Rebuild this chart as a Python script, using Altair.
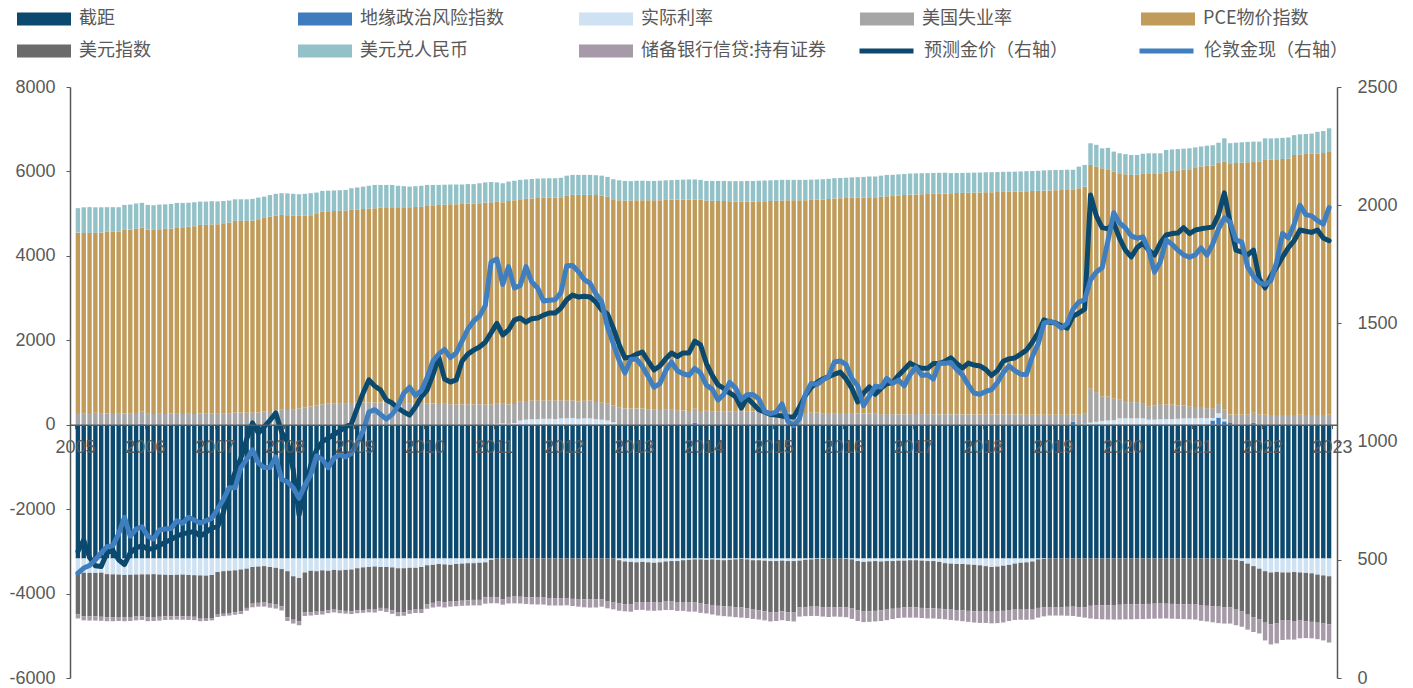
import altair as alt
import pandas as pd

YEARS = ["2005", "2006", "2007", "2008", "2009", "2010", "2011", "2012", "2013", "2014",
         "2015", "2016", "2017", "2018", "2019", "2020", "2021", "2022", "2023"]

SERIES = ["截距", "地缘政治风险指数", "实际利率", "美国失业率", "PCE物价指数",
          "美元指数", "美元兑人民币", "储备银行信贷:持有证券"]
COLORS = ["#0b4a6e", "#3f7cbf", "#cfe2f3", "#a6a6a6", "#c09b5a",
          "#6b6b6b", "#93c1c8", "#a699a8"]
LINE_SERIES = ["预测金价（右轴）", "伦敦金现（右轴）"]
LINE_COLORS = ["#0b4a6e", "#3f7fc0"]

# monthly contributions (one row = 12 months)
INTERCEPT = [
    -3170, -3170, -3170, -3170, -3170, -3170, -3170, -3170, -3170, -3170, -3170, -3170,
    -3170, -3170, -3170, -3170, -3170, -3170, -3170, -3170, -3170, -3170, -3170, -3170,
    -3170, -3170, -3170, -3170, -3170, -3170, -3170, -3170, -3170, -3170, -3170, -3170,
    -3170, -3170, -3170, -3170, -3170, -3170, -3170, -3170, -3170, -3170, -3170, -3170,
    -3170, -3170, -3170, -3170, -3170, -3170, -3170, -3170, -3170, -3170, -3170, -3170,
    -3170, -3170, -3170, -3170, -3170, -3170, -3170, -3170, -3170, -3170, -3170, -3170,
    -3170, -3170, -3170, -3170, -3170, -3170, -3170, -3170, -3170, -3170, -3170, -3170,
    -3170, -3170, -3170, -3170, -3170, -3170, -3170, -3170, -3170, -3170, -3170, -3170,
    -3170, -3170, -3170, -3170, -3170, -3170, -3170, -3170, -3170, -3170, -3170, -3170,
    -3170, -3170, -3170, -3170, -3170, -3170, -3170, -3170, -3170, -3170, -3170, -3170,
    -3170, -3170, -3170, -3170, -3170, -3170, -3170, -3170, -3170, -3170, -3170, -3170,
    -3170, -3170, -3170, -3170, -3170, -3170, -3170, -3170, -3170, -3170, -3170, -3170,
    -3170, -3170, -3170, -3170, -3170, -3170, -3170, -3170, -3170, -3170, -3170, -3170,
    -3170, -3170, -3170, -3170, -3170, -3170, -3170, -3170, -3170, -3170, -3170, -3170,
    -3170, -3170, -3170, -3170, -3170, -3170, -3170, -3170, -3170, -3170, -3170, -3170,
    -3170, -3170, -3170, -3170, -3170, -3170, -3170, -3170, -3170, -3170, -3170, -3170,
    -3170, -3170, -3170, -3170, -3170, -3170, -3170, -3170, -3170, -3170, -3170, -3170,
    -3170, -3170, -3170, -3170, -3170, -3170, -3170, -3170, -3170, -3170, -3170, -3170,
]

GEO = [
    0, 0, 0, 0, 0, 0, 0, 0, 0, 0, 0, 20,
    0, 0, 0, 0, 0, 0, 0, 0, 0, 0, 0, 0,
    0, 0, 0, 0, 0, 0, 0, 0, 0, 0, 0, 0,
    0, 0, 0, 0, 0, 0, 0, 0, 0, 0, 0, 0,
    0, 0, 0, 0, 0, 0, 0, 0, 0, 0, 0, 0,
    0, 0, 0, 0, 0, 0, 0, 0, 0, 0, 0, 0,
    0, 0, 0, 0, 0, 0, 0, 0, 0, 0, 0, 0,
    0, 0, 0, 0, 0, 0, 0, 0, 0, 0, 0, 0,
    0, 0, 0, 0, 0, 0, 0, 0, 0, 0, 50, 0,
    0, 0, 0, 0, 0, 0, 0, 0, 0, 0, 0, 0,
    0, 0, 0, 0, 0, 0, 0, 0, 0, 0, 0, 0,
    0, 0, 0, 0, 0, 0, 0, 0, 0, 0, 0, 0,
    0, 0, 0, 0, 0, 0, 0, 0, 0, 0, 0, 0,
    0, 0, 0, 0, 0, 0, 0, 0, 0, 0, 0, 0,
    0, 0, 0, 70, 0, 0, 0, 0, 0, 0, 0, 0,
    0, 0, 0, 0, 0, 0, 0, 0, 0, 0, 0, 0,
    0, 0, 0, 100, 170, 80, 40, 0, 0, 0, 50, 0,
    0, 0, 0, 0, 0, 0, 0, 0, 0, 0, 0, 0,
]

REAL = [
    -330, -335, -340, -340, -335, -370, -375, -380, -390, -385, -380, -375,
    -375, -370, -380, -385, -390, -385, -380, -390, -395, -400, -405, -390,
    -320, -300, -290, -280, -260, -240, -200, -190, -180, -200, -220, -250,
    -300, -420, -460, -330, -290, -300, -280, -290, -270, -280, -270, -260,
    -230, -210, -200, -190, -200, -200, -210, -230, -230, -220, -220, -200,
    -160, -150, -130, -140, -150, -130, -120, -110, -110, -100, -90, -30,
    20, 30, 20, 40, 100, 120, 130, 130, 140, 140, 130, 150,
    150, 160, 140, 150, 150, 130, 120, 100, 60, -40, -70, -80,
    -90, -80, -90, -100, -90, -70, -60, -60, -40, -30, -20, -20,
    -30, -20, -30, -40, -30, -20, -10, -20, -40, -40, -50, -60,
    -60, -50, -60, -60, -50, -30, -20, -10, -10, 0, 0, 0,
    -10, -20, -60, -80, -70, -60, -70, -60, -60, -50, -50, -40,
    -40, -50, -60, -60, -80, -110, -120, -130, -130, -140, -150, -160,
    -180, -200, -190, -170, -150, -120, -100, -90, -70, -20, -10, 0,
    5, 5, 5, 0, 10, 20, 50, 70, 90, 100, 110, 150,
    150, 150, 150, 150, 120, 120, 130, 130, 130, 140, 150, 150,
    150, 160, 150, 60, 100, 50, -20, -30, -60, -120, -180, -240,
    -300, -330, -320, -330, -330, -320, -330, -340, -350, -380, -400, -420,
]

UNEMP = [
    280, 275, 280, 285, 275, 270, 280, 275, 270, 275, 280, 295,
    262, 255, 262, 255, 267, 262, 255, 262, 255, 267, 273, 267,
    273, 273, 273, 290, 290, 284, 296, 290, 313, 325, 336, 354,
    350, 370, 390, 410, 430, 460, 480, 495, 505, 510, 510, 515,
    525, 530, 528, 528, 525, 525, 528, 528, 515, 505, 505, 510,
    505, 500, 515, 495, 485, 480, 480, 485, 480, 485, 480, 480,
    478, 468, 458, 452, 442, 442, 436, 436, 436, 436, 436, 430,
    415, 415, 410, 420, 425, 410, 400, 405, 400, 400, 388, 383,
    383, 383, 367, 356, 351, 356, 356, 330, 335, 325, 330, 325,
    330, 320, 322, 315, 318, 310, 305, 305, 312, 300, 295, 290,
    285, 285, 290, 285, 275, 280, 285, 290, 275, 280, 275, 280,
    280, 276, 265, 265, 265, 260, 250, 250, 250, 245, 245, 250,
    255, 250, 250, 248, 245, 248, 245, 245, 240, 245, 240, 240,
    238, 240, 240, 243, 248, 240, 240, 238, 235, 235, 238, 235,
    232, 232, 232, 170, 227, 240, 802, 703, 580, 570, 505, 442,
    386, 386, 386, 363, 314, 340, 359, 350, 340, 320, 305, 284,
    270, 260, 244, 220, 219, 225, 200, 235, 235, 235, 235, 235,
    235, 232, 232, 230, 230, 232, 235, 232, 230, 230, 232, 235,
]

PCE = [
    4270, 4265, 4265, 4260, 4275, 4305, 4295, 4295, 4346, 4345, 4360, 4350,
    4358, 4361, 4368, 4385, 4383, 4417, 4424, 4428, 4445, 4467, 4461, 4473,
    4477, 4497, 4517, 4539, 4539, 4545, 4544, 4580, 4587, 4605, 4614, 4616,
    4610, 4580, 4557, 4537, 4530, 4551, 4570, 4560, 4555, 4555, 4563, 4574,
    4575, 4580, 4592, 4602, 4615, 4625, 4625, 4625, 4635, 4645, 4650, 4650,
    4675, 4700, 4692, 4720, 4735, 4745, 4750, 4750, 4760, 4762, 4780, 4790,
    4782, 4772, 4822, 4828, 4800, 4788, 4794, 4804, 4799, 4804, 4819, 4810,
    4855, 4869, 4894, 4874, 4869, 4900, 4910, 4895, 4880, 4920, 4922, 4927,
    4937, 4937, 4948, 4959, 4969, 4969, 4974, 5000, 5000, 5010, 4955, 5005,
    4980, 4985, 4978, 4985, 4977, 4980, 4985, 4985, 4978, 4995, 5000, 5010,
    5020, 5025, 5025, 5030, 5043, 5040, 5040, 5040, 5060, 5065, 5085, 5085,
    5090, 5099, 5115, 5120, 5125, 5130, 5150, 5160, 5170, 5185, 5195, 5200,
    5200, 5210, 5215, 5222, 5230, 5232, 5239, 5243, 5250, 5250, 5260, 5262,
    5267, 5268, 5270, 5272, 5270, 5280, 5285, 5292, 5300, 5305, 5307, 5315,
    5318, 5321, 5323, 5322, 5365, 5380, 5302, 5341, 5405, 5365, 5381, 5365,
    5399, 5382, 5382, 5427, 5523, 5497, 5468, 5516, 5540, 5565, 5585, 5620,
    5660, 5694, 5736, 5760, 5720, 5878, 5956, 5965, 5975, 5980, 5940, 5998,
    6037, 6045, 6055, 6065, 6077, 6156, 6165, 6180, 6195, 6195, 6205, 6227,
]

DXY = [
    -995, -1030, -1025, -1030, -1045, -1020, -1015, -1005, -1000, -1000, -995, -995,
    -1015, -1015, -1000, -985, -977, -982, -990, -985, -985, -1025, -1020, -1020,
    -1010, -1010, -1000, -990, -990, -930, -870, -860, -863, -870, -870, -880,
    -1090, -1030, -1030, -950, -980, -960, -976, -940, -940, -950, -970, -990,
    -1000, -1010, -1010, -1020, -970, -990, -1020, -1050, -1040, -1010, -990, -1010,
    -930, -900, -890, -900, -870, -880, -880, -880, -870, -880, -830, -880,
    -920, -972, -910, -901, -905, -915, -920, -925, -925, -948, -948, -948,
    -948, -955, -960, -965, -972, -970, -970, -1020, -1043, -1027, -1010, -1010,
    -953, -950, -953, -943, -940, -950, -960, -970, -990, -1013, -1023, -1047,
    -1050, -1080, -1090, -1090, -1110, -1130, -1150, -1165, -1170, -1190, -1200, -1220,
    -1210, -1200, -1210, -1220, -1110, -1120, -1120, -1130, -1140, -1160, -1150, -1155,
    -1150, -1165, -1170, -1176, -1180, -1180, -1160, -1150, -1130, -1120, -1110, -1120,
    -1120, -1120, -1120, -1120, -1110, -1090, -1090, -1090, -1100, -1100, -1100, -1096,
    -1076, -1060, -1066, -1070, -1070, -1090, -1110, -1120, -1140, -1150, -1150, -1150,
    -1150, -1150, -1145, -1140, -1150, -1160, -1120, -1114, -1110, -1105, -1100, -1095,
    -1090, -1090, -1085, -1080, -1075, -1070, -1067, -1070, -1075, -1080, -1085, -1090,
    -1090, -1114, -1120, -1130, -1140, -1150, -1140, -1180, -1196, -1210, -1210, -1205,
    -1220, -1230, -1210, -1140, -1140, -1160, -1140, -1150, -1150, -1140, -1140, -1140,
]

CNY = [
    580, 610, 610, 605, 600, 578, 578, 583, 591, 595, 600, 591,
    587, 584, 585, 580, 580, 575, 575, 570, 570, 552, 552, 555,
    540, 530, 520, 511, 511, 511, 510, 510, 504, 510, 520, 515,
    520, 520, 513, 523, 525, 488, 490, 490, 490, 490, 489, 513,
    520, 530, 540, 550, 540, 530, 527, 507, 500, 490, 495, 500,
    500, 480, 473, 470, 470, 465, 460, 465, 460, 473, 480, 480,
    460, 450, 460, 460, 458, 460, 460, 460, 460, 459, 455, 460,
    480, 474, 474, 474, 474, 470, 470, 470, 475, 470, 465, 460,
    460, 460, 460, 460, 460, 465, 465, 470, 470, 475, 475, 470,
    465, 470, 475, 475, 475, 480, 480, 485, 485, 485, 490, 490,
    490, 490, 485, 485, 482, 480, 480, 480, 480, 480, 480, 480,
    480, 485, 485, 485, 490, 490, 500, 505, 500, 500, 500, 500,
    500, 498, 495, 495, 493, 490, 476, 474, 475, 473, 472, 473,
    475, 474, 475, 475, 475, 475, 475, 475, 475, 475, 480, 480,
    480, 477, 480, 478, 512, 514, 513, 516, 472, 525, 474, 473,
    475, 472, 472, 480, 473, 473, 473, 513, 510, 505, 500, 495,
    490, 476, 480, 480, 471, 551, 474, 480, 480, 485, 481, 473,
    512, 504, 500, 500, 498, 472, 480, 475, 473, 513, 520, 560,
]

RESERVE = [
    -95, -100, -105, -100, -95, -95, -95, -95, -95, -95, -90, -85,
    -95, -95, -90, -85, -85, -80, -80, -80, -80, -60, -55, -55,
    -55, -55, -60, -60, -65, -65, -85, -90, -95, -95, -95, -100,
    -90, -90, -90, -80, -80, -75, -70, -65, -65, -65, -65, -65,
    -65, -65, -65, -70, -70, -75, -80, -85, -85, -80, -80, -80,
    -100, -110, -120, -120, -120, -120, -120, -125, -130, -130, -150, -150,
    -140, -120, -155, -160, -160, -160, -165, -165, -165, -165, -165, -165,
    -160, -170, -180, -190, -190, -190, -170, -160, -160, -170, -170, -170,
    -175, -185, -190, -195, -200, -200, -200, -210, -210, -215, -215, -220,
    -220, -225, -230, -235, -235, -240, -240, -225, -220, -215, -215, -210,
    -210, -210, -210, -210, -215, -215, -220, -220, -225, -225, -225, -225,
    -230, -245, -250, -250, -250, -250, -250, -250, -245, -240, -240, -240,
    -240, -240, -240, -240, -240, -240, -245, -250, -255, -260, -265, -270,
    -270, -275, -275, -275, -260, -245, -240, -240, -235, -230, -210, -200,
    -200, -200, -210, -220, -230, -240, -300, -320, -330, -340, -345, -350,
    -350, -350, -350, -355, -355, -355, -355, -350, -350, -350, -350, -350,
    -355, -360, -370, -380, -390, -390, -380, -370, -360, -355, -350, -330,
    -420, -475, -480, -460, -450, -440, -420, -395, -390, -390, -400, -430,
]

PRED = [
    536, 584, 510, 475, 472, 530, 540, 500, 480, 530, 550, 560,
    545, 548, 560, 575, 585, 600, 610, 615, 620, 600, 615, 635,
    640, 700, 800, 870, 930, 1010, 1079, 1036, 1062, 1090, 1121, 1040,
    1000, 880, 690, 795, 900, 965, 1000, 1015, 1030, 1045, 1062, 1075,
    1142, 1205, 1261, 1235, 1218, 1176, 1163, 1142, 1125, 1112, 1146, 1189,
    1218, 1282, 1358, 1265, 1252, 1261, 1340, 1370, 1387, 1400, 1420, 1460,
    1500, 1451, 1472, 1514, 1523, 1505, 1520, 1523, 1535, 1544, 1544, 1565,
    1600, 1620, 1612, 1615, 1612, 1590, 1557, 1540, 1480, 1410, 1354, 1357,
    1370, 1379, 1340, 1303, 1320, 1350, 1375, 1360, 1375, 1375, 1425, 1409,
    1330, 1280, 1240, 1225, 1206, 1190, 1142, 1185, 1160, 1135, 1125, 1115,
    1112, 1108, 1104, 1104, 1146, 1195, 1230, 1250, 1265, 1275, 1285, 1294,
    1265, 1225, 1168, 1205, 1231, 1200, 1225, 1245, 1250, 1280, 1305, 1332,
    1318, 1310, 1310, 1330, 1330, 1340, 1354, 1330, 1311, 1332, 1324, 1320,
    1305, 1280, 1300, 1340, 1350, 1354, 1370, 1387, 1420, 1460, 1515, 1505,
    1502, 1490, 1480, 1530, 1544, 1560, 2043, 1955, 1905, 1900, 1925, 1860,
    1810, 1781, 1820, 1840, 1810, 1789, 1840, 1874, 1880, 1882, 1905, 1880,
    1895, 1900, 1904, 1908, 1960, 2052, 1925, 1810, 1802, 1790, 1810, 1690,
    1650, 1700, 1739, 1781, 1820, 1850, 1895, 1890, 1885, 1895, 1861, 1850,
]

GOLD = [
    444, 465, 476, 500, 530, 555, 560, 610, 680, 600, 630, 640,
    600, 588, 626, 630, 632, 665, 655, 680, 668, 656, 665, 675,
    715, 755, 805, 805, 890, 925, 965, 910, 890, 890, 935, 840,
    830, 805, 760, 815, 860, 940, 925, 890, 930, 945, 935, 950,
    995, 1045, 1125, 1135, 1115, 1095, 1115, 1150, 1205, 1230, 1195, 1215,
    1270, 1340, 1370, 1390, 1355, 1375, 1425, 1475, 1510, 1530, 1575, 1760,
    1772, 1665, 1740, 1650, 1660, 1740, 1675, 1650, 1595, 1598, 1600, 1630,
    1744, 1745, 1720, 1685, 1670, 1625, 1592, 1485, 1414, 1343, 1290, 1347,
    1349, 1318, 1275, 1230, 1245, 1300, 1336, 1300, 1287, 1280, 1310, 1290,
    1239, 1222, 1176, 1200, 1251, 1227, 1179, 1198, 1199, 1181, 1128, 1118,
    1125, 1159, 1086, 1068, 1097, 1200, 1246, 1242, 1260, 1276, 1337, 1341,
    1326, 1267, 1236, 1152, 1192, 1234, 1231, 1267, 1246, 1260, 1236, 1283,
    1314, 1280, 1283, 1265, 1331, 1331, 1335, 1305, 1282, 1240, 1205, 1200,
    1212, 1220, 1250, 1292, 1320, 1300, 1285, 1284, 1360, 1413, 1500, 1510,
    1500, 1480, 1500, 1560, 1590, 1600, 1684, 1717, 1735, 1850, 1968, 1925,
    1904, 1870, 1860, 1866, 1810, 1717, 1760, 1853, 1835, 1810, 1790, 1780,
    1790, 1819, 1789, 1835, 1900, 1946, 1929, 1853, 1844, 1739, 1700, 1671,
    1665, 1680, 1760, 1880, 1861, 1920, 2000, 1960, 1955, 1935, 1920, 1990,
]

BAR_VALUES = [INTERCEPT, GEO, REAL, UNEMP, PCE, DXY, CNY, RESERVE]
for arr in BAR_VALUES + [PRED, GOLD]:
    assert len(arr) == 216, len(arr)

N = len(PRED)

bar_rows = []
for k, (name, vals) in enumerate(zip(SERIES, BAR_VALUES)):
    for i, v in enumerate(vals):
        bar_rows.append({"pos": i + 0.5, "series": name, "k": k, "value": v})
bars_df = pd.DataFrame(bar_rows)

line_rows = []
for name, vals in zip(LINE_SERIES, [PRED, GOLD]):
    for i, v in enumerate(vals):
        line_rows.append({"pos": i + 0.5, "series": name, "price": v})
lines_df = pd.DataFrame(line_rows)

GREY = "#595959"
FONT_NUM = "Liberation Sans"
FONT_CJK = "Noto Sans CJK SC"

W, H = 1267, 591
Y_MIN, Y_MAX = -6000, 8000
zero_from_bottom = H * (0 - Y_MIN) / (Y_MAX - Y_MIN)

label_array = "[" + ",".join("'" + y + "'" for y in YEARS) + "]"
x_enc = alt.X(
    "pos:Q",
    scale=alt.Scale(domain=[0, N], nice=False, zero=False),
    axis=alt.Axis(
        values=list(range(0, N + 1, 12)),
        labelExpr=label_array + "[round(datum.value / 12)]",
        offset=-zero_from_bottom,
        title=None,
        grid=False,
        labelFlush=False,
        labelOverlap=False,
        tickSize=4,
        labelPadding=10,
        zindex=1,
        domainWidth=1.5,
    ),
)

bars = alt.Chart(bars_df).mark_bar(size=4.4).encode(
    x=x_enc,
    y=alt.Y(
        "value:Q",
        stack="zero",
        scale=alt.Scale(domain=[Y_MIN, Y_MAX], nice=False),
        axis=alt.Axis(
            orient="left",
            values=list(range(Y_MIN, Y_MAX + 1, 2000)),
            labelExpr="datum.value + ''",
            title=None,
            grid=False,
            tickSize=4,
            labelPadding=11,
            domainWidth=1.5,
        ),
    ),
    color=alt.Color(
        "series:N",
        scale=alt.Scale(domain=SERIES, range=COLORS),
        legend=alt.Legend(
            title=None,
            orient="none",
            direction="horizontal",
            legendX=-53,
            legendY=-78,
            columns=5,
            symbolType="M-1,-0.24H1V0.24H-1Z",
            symbolSize=2916,
            symbolStrokeWidth=0,
            symbolOpacity=1,
            labelFont=FONT_CJK,
            labelFontSize=18,
            labelColor=GREY,
            labelLimit=400,
            labelOffset=8,
            columnPadding=33,
            rowPadding=12,
            gridAlign="all",
            clipHeight=20,
            padding=0,
        ),
    ),
    order=alt.Order("k:Q", sort="ascending"),
)

lines = alt.Chart(lines_df).mark_line(strokeWidth=5, strokeJoin="round", strokeCap="round").encode(
    x=x_enc,
    y=alt.Y(
        "price:Q",
        scale=alt.Scale(domain=[0, 2500], nice=False),
        axis=alt.Axis(
            orient="right",
            values=[0, 500, 1000, 1500, 2000, 2500],
            labelExpr="datum.value + ''",
            title=None,
            grid=False,
            tickSize=4,
            labelPadding=16,
            domainWidth=1.5,
        ),
    ),
    color=alt.Color(
        "series:N",
        scale=alt.Scale(domain=LINE_SERIES, range=LINE_COLORS),
        legend=alt.Legend(
            title=None,
            orient="none",
            direction="horizontal",
            legendX=787,
            legendY=-46,
            columns=2,
            symbolType="stroke",
            symbolSize=2916,
            symbolStrokeWidth=5,
            labelFont=FONT_CJK,
            labelFontSize=18,
            labelColor=GREY,
            labelLimit=400,
            labelOffset=8,
            columnPadding=69,
            gridAlign="all",
            clipHeight=20,
            padding=0,
        ),
    ),
)

chart = (
    alt.layer(bars, lines)
    .resolve_scale(y="independent", color="independent")
    .properties(
        width=W,
        height=H,
        padding={"left": 70, "top": 87, "right": 1413 - 70 - W, "bottom": 688 - 87 - H},
        autosize=alt.AutoSizeParams(type="none"),
        background="white",
    )
    .configure_view(strokeWidth=0)
    .configure_axis(
        labelFont=FONT_NUM,
        labelFontSize=18,
        labelColor=GREY,
        domainColor=GREY,
        tickColor=GREY,
    )
)

chart.save("out.html", embed_options={"renderer": "svg", "actions": False})
